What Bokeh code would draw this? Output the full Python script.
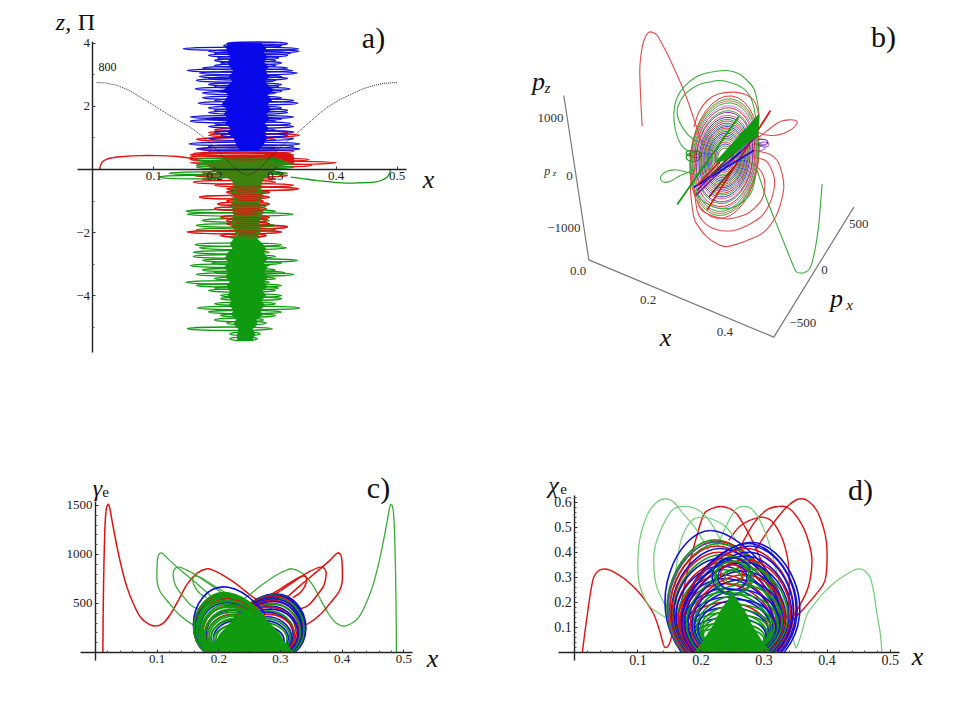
from bokeh.plotting import figure
from bokeh.layouts import column, row
from bokeh.models import Label, Range1d, FixedTicker, ColumnDataSource
from bokeh.embed import file_html
from bokeh.resources import INLINE

RED = "#e01010"
GRN = "#0f9a10"
BLU = "#1010d8"
LGR = "#72cc76"
SGR = "#3aaa3a"
SRD = "#e04848"
DRK = "#3f8210"
PUR = "#8010a0"
BRN = "#704010"

# ---------- panel a: x-z tracks -------------------------------------------
a_blue_z = [3.98,3.92,3.82,3.74,3.68,3.61,3.53,3.45,3.37,3.29,3.21,3.13,3.05,2.94,2.88,2.82,2.69,2.62,2.55,2.48,2.42,2.27,2.18,2.10,1.95,1.87,1.80,1.66,1.60,1.53,1.45,1.36,1.18,1.08,0.97,0.81,0.73,0.65]
a_blue_lo = [.22,.215,.148,.19,.20,.19,.205,.20,.21,.20,.18,.155,.175,.175,.19,.17,.19,.20,.168,.205,.18,.18,.20,.173,.19,.20,.19,.16,.185,.16,.20,.19,.20,.21,.19,.158,.19,.17]
a_blue_hi = [.32,.31,.338,.339,.325,.32,.305,.30,.31,.30,.32,.328,.336,.31,.32,.30,.31,.305,.324,.31,.30,.31,.33,.337,.31,.32,.32,.33,.31,.30,.325,.33,.33,.32,.33,.34,.33,.34]
a_blue_core_z = [4.0,3.85,3.7,3.55,3.4,3.25,3.1,2.95,2.8,2.65,2.5,2.35,2.2,2.05,1.9,1.75,1.6,1.45,1.3,1.15,1.0,0.8,0.62,0.62,0.8,1.0,1.15,1.3,1.45,1.6,1.75,1.9,2.05,2.2,2.35,2.5,2.65,2.8,2.95,3.1,3.25,3.4,3.55,3.7,3.85,4.0]
a_blue_core_x = [.224,.22,.222,.228,.222,.226,.232,.224,.23,.222,.216,.224,.218,.212,.222,.216,.224,.218,.228,.222,.232,.236,.242,.272,.28,.286,.282,.288,.282,.29,.284,.292,.286,.294,.286,.296,.288,.282,.29,.282,.288,.28,.286,.28,.284,.276]

a_red_z = [1.25,1.17,1.08,.95,.65,.58,.50,.46,.39,.31,.21,.13,-.10,-.19,-.30,-.40,-.50,-.61,-.72,-.875,-1.0,-1.09,-1.24,-1.36,-1.51,-1.62,-1.72,-1.82,-1.98,-2.09]
a_red_lo = [.20,.19,.19,.17,.175,.19,.165,.16,.16,.16,.16,.17,.18,.165,.18,.165,.2,.22,.22,.175,.22,.205,.20,.23,.21,.22,.22,.23,.155,.21]
a_red_hi = [.30,.32,.34,.30,.30,.33,.32,.33,.33,.355,.40,.36,.31,.32,.30,.30,.33,.338,.29,.29,.28,.29,.285,.28,.29,.285,.29,.32,.31,.285]
a_red_over_z = [-.55,-.68,-.82,-.95,-1.12,-1.27,-1.40,-1.55,-1.68,-1.80,-1.95,-2.06,.42,.34]
a_red_over_lo = [.23,.235,.225,.235,.222,.23,.232,.225,.235,.228,.235,.24,.20,.22]
a_red_over_hi = [.28,.27,.28,.275,.285,.28,.27,.285,.275,.28,.27,.27,.30,.29]
a_red_blob_x = [.283,.30,.325,.33,.33,.29,.285]
a_red_blob_z = [.52,.50,.50,.38,.20,.22,.35]
a_red_start_x = [.011,.012,.015,.021,.032,.05,.078,.105,.133,.155,.171]
a_red_start_z = [0,.10,.23,.31,.37,.41,.44,.44,.42,.37,.31]

a_grn_z = [.31,.24,.18,.07,-.12,-.24,-.55,-.70,-.90,-1.15,-1.32,-1.42,-1.61,-1.77,-1.91,-2.14,-2.38,-2.48,-2.62,-2.75,-2.88,-2.96,-3.04,-3.18,-3.26,-3.32,-3.45,-3.57,-3.67,-3.75,-3.83,-3.99,-4.09,-4.25,-4.38,-4.51,-4.62,-4.76,-4.86,-5.04,-5.2,-5.36]
a_grn_lo = [.17,.18,.17,.17,.125,.108,.23,.225,.23,.225,.153,.155,.18,.17,.17,.225,.168,.175,.165,.165,.18,.195,.16,.18,.2,.17,.2,.153,.17,.2,.19,.21,.21,.20,.172,.19,.21,.20,.22,.155,.225,.225]
a_grn_hi = [.31,.32,.33,.33,.32,.22,.28,.285,.28,.285,.30,.329,.29,.30,.30,.275,.31,.318,.29,.30,.336,.31,.29,.30,.315,.33,.30,.29,.31,.305,.30,.31,.31,.30,.34,.31,.30,.28,.285,.295,.275,.27]
a_grn_core_z = [.34,.14,.0,-.15,-.3,-.5,-.5,-.3,-.15,.0,.14,.34]
a_grn_core_x = [.215,.19,.195,.21,.225,.235,.275,.28,.29,.30,.31,.285]
a_grn_low_z = [-2.2,-2.35,-2.5,-2.65,-2.8,-2.95,-3.1,-3.25,-3.4,-3.55,-3.7,-3.85,-4.0,-4.15,-4.3,-4.45,-4.6,-4.75,-4.9,-5.05,-5.2,-5.4,-5.4,-5.2,-5.05,-4.9,-4.75,-4.6,-4.45,-4.3,-4.15,-4.0,-3.85,-3.7,-3.55,-3.4,-3.25,-3.1,-2.95,-2.8,-2.65,-2.5,-2.35,-2.2]
a_grn_low_x = [.232,.226,.23,.222,.218,.224,.216,.224,.218,.226,.22,.226,.222,.228,.224,.232,.228,.236,.232,.24,.238,.238,.262,.266,.262,.27,.268,.278,.274,.282,.276,.284,.278,.286,.28,.288,.28,.286,.28,.288,.28,.284,.278,.27]
a_mix_z = [-.5,-.8,-1.1,-1.4,-1.7,-2.0,-2.2,-2.2,-2.0,-1.7,-1.4,-1.1,-.8,-.5]
a_mix_x = [.23,.235,.228,.232,.228,.235,.238,.268,.275,.272,.278,.272,.278,.272]
a_grn_start_x = [.489,.488,.484,.475,.462,.44,.418,.395,.369,.345,.325]
a_grn_start_z = [0,-.10,-.24,-.34,-.40,-.42,-.43,-.40,-.35,-.29,-.24]

a_dot_x = [.006,.02,.04,.06,.078,.10,.122,.14,.16,.18,.199,.215,.232,.244,.254,.264,.276,.292,.308,.328,.347,.366,.385,.407,.429,.445,.462,.48,.5]
a_dot_y = [2.75,2.74,2.66,2.50,2.29,2.03,1.76,1.55,1.34,1.05,.71,.40,.07,-.12,-.19,-.12,.07,.40,.71,1.03,1.34,1.66,1.97,2.22,2.42,2.56,2.66,2.73,2.75]

# ---------- panel c: x-gamma ----------------------------------------------
c_red_x = [.012,.0125,.0135,.015,.017,.02,.023,.027,.035,.043,.051,.062,.073,.085,.097,.11,.122,.135,.149,.165,.181,.192,.203,.22,.235,.25,.268,.285]
c_red_y = [0,400,837,1220,1440,1510,1480,1340,1075,850,667,490,360,295,269,300,395,540,700,810,854,835,803,735,667,590,514,450]
c_grn_x = [.488,.4875,.4865,.485,.483,.48,.477,.473,.465,.457,.449,.438,.427,.415,.403,.39,.378,.365,.351,.335,.319,.308,.297,.28,.265,.25,.232,.215]
c_grn_y = c_red_y
c_rloop_x = [[.24,.27,.30,.32,.335,.341,.342,.338,.33,.32],
             [.27,.30,.33,.35,.365,.372,.374,.37,.36,.345,.33],
             [.31,.335,.36,.38,.392,.398,.40,.40,.395,.38,.365,.345,.335]]
c_rloop_y = [[440,540,650,730,778,770,720,660,600,560],
             [500,630,760,835,871,850,790,680,590,480,440],
             [560,700,830,940,1014,990,900,720,620,500,390,295,280]]
c_gloop_x = [[.26,.23,.20,.18,.165,.159,.158,.162,.17,.18],
             [.23,.20,.17,.15,.135,.128,.126,.13,.14,.155,.17],
             [.19,.165,.14,.12,.108,.102,.10,.10,.105,.12,.135,.155,.165]]
c_gloop_y = c_rloop_y
c_left_x = [.157,.159,.16,.158,.162,.163,.16,.163,.166,.164,.168,.166,.17,.173,.17,.176,.178,.176,.18,.183,.186,.19,.194,.198,.158,.162,.166,.172,.176,.18,.186,.19]
c_left_p = [680,620,610,600,595,585,570,565,555,540,530,515,500,485,470,450,435,415,395,375,350,330,300,270,610,580,530,480,440,390,340,290]
c_left_col = [BLU,GRN,GRN,RED,GRN,GRN,BLU,GRN,RED,GRN,GRN,BLU,GRN,RED,GRN,GRN,BLU,GRN,RED,GRN,GRN,BLU,GRN,GRN,GRN,GRN,GRN,GRN,GRN,GRN,GRN,GRN]
c_right_x = [.343,.341,.34,.342,.338,.336,.34,.337,.334,.336,.332,.334,.33,.327,.33,.324,.322,.324,.319,.317,.314,.312,.307,.304]
c_right_p = [605,600,595,590,585,570,560,555,540,530,510,500,480,470,450,430,415,395,370,350,330,310,280,260]
c_right_col = [BLU,BLU,GRN,BLU,RED,BLU,GRN,BLU,RED,BLU,RED,GRN,BLU,RED,BLU,GRN,BLU,RED,BLU,GRN,BLU,GRN,BLU,GRN]
c_core_x = [.18,.187,.195,.203,.21,.218,.228,.238,.25,.262,.272,.282,.29,.297,.305,.313,.32]
c_core_y = [0,60,110,190,245,295,360,410,445,410,360,300,250,190,110,60,0]

# ---------- panel d: x-chi ------------------------------------------------
d_red_x = [.012,.016,.02,.025,.03,.037,.046,.056,.067,.083,.099,.112,.125,.134,.141,.146,.151,.158,.168,.175,.183,.194,.205,.218,.231,.245,.257,.27,.284,.30]
d_red_y = [0,.08,.153,.24,.30,.325,.333,.328,.313,.285,.247,.205,.153,.09,.027,.02,.04,.11,.19,.28,.367,.47,.553,.575,.583,.575,.553,.50,.433,.34]
d_rloops_x = [[.244,.26,.28,.297,.312,.328,.337,.34,.339,.33,.31],
              [.262,.285,.305,.323,.34,.36,.372,.376,.37,.355,.342],
              [.286,.31,.326,.34,.355,.37,.385,.397,.40,.397,.385,.365,.345]]
d_rloops_y = [[.447,.50,.53,.54,.525,.46,.38,.30,.19,.10,.03],
              [.42,.52,.57,.583,.575,.51,.43,.36,.26,.18,.127],
              [.407,.50,.553,.59,.613,.605,.56,.47,.393,.29,.24,.18,.127]]
d_grn_x = [.487,.484,.479,.474,.468,.46,.452,.442,.432,.415,.398,.382,.368,.36,.352,.349,.343,.335,.322,.31,.295,.282,.268,.255,.241,.225]
d_grn_y = [0,.08,.153,.24,.30,.325,.333,.328,.313,.285,.247,.2,.15,.08,.02,.03,.08,.17,.30,.42,.52,.57,.583,.57,.51,.42]
d_gloops_x = [[.255,.24,.22,.20,.185,.17,.163,.16,.162,.17],
              [.237,.215,.195,.173,.155,.14,.128,.125,.13,.145],
              [.212,.19,.172,.157,.144,.13,.115,.103,.10,.105,.12,.15]]
d_gloops_y = [[.45,.50,.53,.54,.525,.46,.38,.30,.19,.10],
              [.42,.52,.57,.583,.57,.51,.43,.36,.26,.18],
              [.41,.50,.553,.60,.613,.60,.55,.45,.327,.25,.18,.13]]
d_arch_l = [.149,.151,.152,.153,.155,.156,.158,.16,.161,.163,.165,.167,.169,.171,.173,.175,.177,.179,.181,.183,.186,.189,.192,.195,.198]
d_arch_r = [.335,.335,.333,.33,.33,.328,.326,.325,.322,.32,.318,.32,.316,.313,.31,.31,.308,.305,.303,.30,.298,.295,.292,.29,.287]
d_arch_px = [.215,.222,.225,.222,.228,.225,.23,.228,.232,.23,.235,.232,.236,.234,.238,.236,.24,.238,.242,.24,.244,.242,.245,.244,.246]
d_arch_p = [.487,.45,.445,.44,.435,.425,.415,.40,.39,.375,.36,.345,.33,.31,.295,.275,.255,.24,.22,.20,.18,.16,.14,.12,.10]
d_arch_col = [BLU,GRN,RED,"#4060a0",GRN,RED,BLU,RED,GRN,BLU,RED,BLU,GRN,RED,BLU,RED,BLU,GRN,BLU,RED,BLU,GRN,BLU,GRN,GRN]
d_arch2_l = [.168,.168,.166,.166,.168,.17,.172,.175,.178,.182,.186,.19,.193,.196,.2,.204,.208,.212,.215,.218]
d_arch2_r = [.352,.348,.345,.342,.34,.338,.335,.333,.33,.327,.325,.322,.32,.316,.312,.308,.304,.30,.296,.292]
d_arch2_px = [.28,.275,.278,.272,.275,.27,.272,.268,.27,.266,.268,.264,.265,.262,.263,.26,.26,.258,.257,.256]
d_arch2_p = [.44,.435,.425,.415,.40,.385,.37,.36,.34,.325,.31,.29,.27,.25,.23,.21,.19,.17,.15,.13]
d_arch2_col = [BLU,BLU,BLU,RED,BLU,BLU,RED,BLU,GRN,BLU,RED,BLU,GRN,BLU,GRN,BLU,GRN,GRN,GRN,GRN]
d_ring_x = [.25,.249,.251,.25,.25,.249,.251]
d_ring_y = [.305,.305,.30,.305,.30,.31,.30]
d_ring_w = [.066,.062,.058,.052,.046,.036,.026]
d_ring_h = [.155,.145,.13,.115,.10,.08,.055]
d_ring_col = [GRN,BLU,GRN,GRN,BLU,RED,GRN]
d_core_x = [.19,.2,.21,.22,.23,.25,.27,.28,.29,.30,.31]
d_core_y = [0,.03,.07,.11,.16,.235,.16,.11,.07,.03,0]

# ---------- panel b: projected 3-D track ----------------------------------
b_box_x = [130,205,760,1000]
b_box_y = [255,748,980,590]
b_red_x = [365,360,358,365,375,385,398,410,430,450,490,520,545]
b_red_y = [347,250,170,110,78,65,66,75,110,150,240,325,400]
b_grn_x = [905,900,895,885,870,855,845,830,820,780,740,710]
b_grn_y = [520,580,640,710,770,785,788,785,770,670,570,480]
b_gloop1_x = [525,500,480,465,460,468,490,525,570,620,655,680,700,710,715,712]
b_gloop1_y = [430,420,400,360,310,265,230,200,185,180,190,210,235,270,310,345]
b_gloop2_x = [530,500,475,470,480,500,530,565,600,640,670,690,700,710]
b_gloop2_y = [395,370,330,300,270,245,225,215,210,220,235,260,290,350]
b_gteardrop_x = [530,505,480,450,430,420,425,440,460,480,505,530]
b_gteardrop_y = [470,485,495,512,515,505,492,482,478,480,487,495]
b_rteardrop_x = [700,730,760,790,815,830,825,805,780,760,735,715]
b_rteardrop_y = [360,372,375,368,355,338,330,328,333,345,365,380]
b_rlow1_x = [700,745,770,785,790,780,765,730,680,620,590,560,535,520,510,512,520]
b_rlow1_y = [420,430,450,490,530,580,620,665,690,708,700,680,650,620,540,510,480]
b_rlow2_x = [700,735,750,762,760,745,720,680,640,600,570,545,530,520]
b_rlow2_y = [440,450,470,505,540,585,620,645,660,660,650,630,600,530]
b_rlow3_x = [700,720,730,733,725,705,680,650,620,590,560,540,530]
b_rlow3_y = [460,480,500,530,565,590,610,620,625,620,610,595,570]
b_rtop_x = [520,535,560,595,640,675,700,712,715]
b_rtop_y = [350,305,270,250,245,252,270,300,330]
b_glow_x = [525,540,570,610,650,690,705]
b_glow_y = [540,565,585,595,585,550,500]
b_ell_w = [205,201,197,190,186,180,172,168,160,152,146,140,135,128,122,116,110,104,98,92,86,80,72,64,56,48,40]
b_ell_h = [370,352,340,328,310,298,280,270,252,240,228,218,205,195,185,175,165,155,145,135,125,115,105,92,80,68,55]
b_ell_col = [RED,GRN,SRD,GRN,"#a070e0",RED,GRN,PUR,SRD,BLU,GRN,RED,PUR,GRN,BLU,RED,GRN,BRN,BLU,GRN,PUR,BRN,GRN,RED,BLU,GRN,BRN]
b_lob_x = [730,722,712,525,518,512]
b_lob_y = [402,395,410,432,440,428]
b_lob_w = [30,40,45,36,42,30]
b_lob_h = [14,18,22,20,26,16]
b_lob_col = ["#a070e0",PUR,"#a070e0",GRN,GRN,GRN]
b_diag_x0 = [470,560,525,520,590,530,540,565,530,575]
b_diag_y0 = [582,598,555,530,460,525,520,560,540,490]
b_diag_x1 = [655,750,712,700,715,700,660,640,620,670]
b_diag_y1 = [318,300,375,420,315,345,425,470,445,400]
b_diag_col = [GRN,RED,PUR,BLU,GRN,RED,BLU,BRN,PUR,BRN]
b_wedge_x = [585,715,712,610]
b_wedge_y = [455,312,375,450]

# ---------- layout helpers -------------------------------------------------
SERIF = "Liberation Serif"

def panel(w, h, xr, yr):
    p = figure(width=w, height=h, x_range=Range1d(*xr), y_range=Range1d(*yr),
               output_backend="svg", toolbar_location=None, min_border=0)
    p.grid.visible = False
    p.outline_line_color = None
    p.background_fill_color = "white"
    p.border_fill_color = "white"
    return p

def style_axes(p, xt, xm, xb, yt, ym, yb, ylabels=None, fs="13px"):
    p.xaxis.fixed_location = 0
    p.yaxis.fixed_location = 0
    p.xaxis.ticker = FixedTicker(ticks=xt, minor_ticks=xm)
    p.yaxis.ticker = FixedTicker(ticks=yt, minor_ticks=ym)
    p.xaxis.bounds = xb
    p.yaxis.bounds = yb
    if ylabels:
        p.yaxis.major_label_overrides = ylabels
    for ax in (p.xaxis[0], p.yaxis[0]):
        ax.axis_line_color = "#222222"
        ax.axis_line_width = 1.4
        ax.major_tick_line_color = "#333333"
        ax.minor_tick_line_color = "#555555"
        ax.major_tick_in = 3
        ax.major_tick_out = 0
        ax.minor_tick_in = 2
        ax.minor_tick_out = 0
        ax.major_label_text_font = SERIF
        ax.major_label_text_font_size = fs
        ax.major_label_text_color = "#222222"
        ax.major_label_standoff = 3

def put(p, left, top, px, py, text, size, italic=False, align="center", color="#111111"):
    p.add_layout(Label(x=px - left, y=p.height - (py - top), x_units="screen", y_units="screen",
                       text=text, text_font=SERIF, text_font_size=f"{size}px",
                       text_font_style="italic" if italic else "normal",
                       text_align=align, text_baseline="middle", text_color=color))

def rings(p, z, lo, hi, color, height=.11, width=1.3, alpha=1):
    src = ColumnDataSource(dict(x=[(a + b) / 2 for a, b in zip(lo, hi)], y=z,
                                w=[b - a for a, b in zip(lo, hi)]))
    p.ellipse(x="x", y="y", width="w", height=height, source=src, fill_color=None,
              line_color=color, line_width=width, line_alpha=alpha)

def smooth(p, xs, ys, color, width):
    """Draw a curve through the read points with one cubic segment per pair of points."""
    n = len(xs)
    x0, y0, x1, y1, c0x, c0y, c1x, c1y = [], [], [], [], [], [], [], []
    for i in range(n - 1):
        a = max(i - 1, 0); d = min(i + 2, n - 1)
        x0.append(xs[i]); y0.append(ys[i]); x1.append(xs[i + 1]); y1.append(ys[i + 1])
        c0x.append(xs[i] + (xs[i + 1] - xs[a]) / 6); c0y.append(ys[i] + (ys[i + 1] - ys[a]) / 6)
        c1x.append(xs[i + 1] - (xs[d] - xs[i]) / 6); c1y.append(ys[i + 1] - (ys[d] - ys[i]) / 6)
    p.bezier(x0=x0, y0=y0, x1=x1, y1=y1, cx0=c0x, cy0=c0y, cx1=c1x, cy1=c1y,
             line_color=color, line_width=width)

# ---------- panel a ---------------------------------------------------------
LA, TA, WA, HA = 0, 0, 480, 432
a = panel(WA, HA, (-.1521, .6373), (-8.323, 5.348))
style_axes(a, [.1, .2, .3, .4, .5], [], (-.0255, .515), [-4, -2, 2, 4],
           [-5, -3, -1, 1, 3], (-5.8, 4.05), {-4: "−4", -2: "−2"})
rings(a, a_red_z, a_red_lo, a_red_hi, RED)
a.patch(a_red_blob_x, a_red_blob_z, color=RED, line_width=1)
smooth(a, a_red_start_x, a_red_start_z, RED, 1.4)
rings(a, a_grn_z, a_grn_lo, a_grn_hi, GRN)
rings(a, a_red_z[-13:], a_red_lo[-13:], a_red_hi[-13:], RED, alpha=.8)
a.patch(a_mix_x, a_mix_z, color=DRK)
a.patch(a_grn_core_x, a_grn_core_z, color=DRK)
rings(a, a_red_over_z, a_red_over_lo, a_red_over_hi, "#c02810", height=.07, width=1.1)
a.patch(a_grn_low_x, a_grn_low_z, color=GRN)
smooth(a, a_grn_start_x, a_grn_start_z, GRN, 1.3)
rings(a, a_blue_z, a_blue_lo, a_blue_hi, BLU)
a.patch(a_blue_core_x, a_blue_core_z, color="#0808e8")
a.line(a_dot_x, a_dot_y, line_color="#222222", line_width=1, line_dash="1 1")
put(a, LA, TA, 107, 66, "800", 12)
put(a, LA, TA, 63, 21, "z,", 24, italic=True)
put(a, LA, TA, 86, 21, "Π", 24)
put(a, LA, TA, 428, 179, "x", 26, italic=True)
put(a, LA, TA, 373, 37, "a)", 30)

# ---------- panel b ---------------------------------------------------------
LB, TB, WB, HB = 480, 0, 464, 432
b = panel(WB, HB, (-120, 1272), (1266, -30))
b.xaxis.visible = False
b.yaxis.visible = False
b.line(b_box_x, b_box_y, line_color="#777777", line_width=1.2)
b.ellipse(x=b_lob_x, y=b_lob_y, width=b_lob_w, height=b_lob_h, fill_color=None,
          line_color=b_lob_col, line_width=1.1)
b.ellipse(x=612, y=440, width=b_ell_w, height=b_ell_h, angle=-.12, fill_color=None,
          line_color=b_ell_col, line_width=1.0, line_alpha=.85)
for xs, ys, col in [(b_red_x, b_red_y, SRD), (b_grn_x, b_grn_y, SGR),
                    (b_gloop1_x, b_gloop1_y, SGR), (b_gloop2_x, b_gloop2_y, SGR),
                    (b_gteardrop_x, b_gteardrop_y, SGR), (b_rteardrop_x, b_rteardrop_y, SRD),
                    (b_rlow1_x, b_rlow1_y, SRD), (b_rlow2_x, b_rlow2_y, SRD),
                    (b_rlow3_x, b_rlow3_y, SRD), (b_rtop_x, b_rtop_y, SRD),
                    (b_glow_x, b_glow_y, SGR)]:
    smooth(b, xs, ys, col, 1.1)
b.segment(b_diag_x0, b_diag_y0, b_diag_x1, b_diag_y1, line_color=b_diag_col, line_width=1.7)
b.patch(b_wedge_x, b_wedge_y, color=GRN)
for zx, zy, t, s, it in [(90, 322, "1000", 13, False), (147, 497, "0", 13, False), (130, 652, "−1000", 13, False),
                         (80, 482, "p", 12, True), (173, 780, "0.0", 13, False), (383, 868, "0.2", 13, False),
                         (613, 964, "0.4", 13, False), (1015, 640, "500", 13, False), (912, 778, "0", 13, False),
                         (847, 938, "−500", 13, False)]:
    put(b, LB, TB, 520 + zx / 3, 10 + zy / 3, t, s, it, color="#333333")
put(b, LB, TB, 554, 172, "z", 9, italic=True, color="#333333")
put(b, LB, TB, 538, 81, "p", 26, italic=True)
put(b, LB, TB, 547, 87, "z", 15, italic=True)
put(b, LB, TB, 836, 298, "p", 26, italic=True)
put(b, LB, TB, 849, 304, "x", 15, italic=True)
put(b, LB, TB, 665, 337, "x", 26, italic=True)
put(b, LB, TB, 883, 36, "b)", 30)

# ---------- panel c ---------------------------------------------------------
LC, TC, WC, HC = 0, 432, 480, 272
c = panel(WC, HC, (-.154, .6243), (-531, 2245))
style_axes(c, [.1, .2, .3, .4, .5], [.02, .04, .06, .08, .12, .14, .16, .18, .22, .24, .26, .28, .32, .34, .36, .38, .42, .44, .46, .48],
           (-.024, .5135), [500, 1000, 1500],
           [100, 200, 300, 400, 600, 700, 800, 900, 1100, 1200, 1300, 1400], (-80, 1540))
smooth(c, c_red_x, c_red_y, RED, 1.5)
smooth(c, c_grn_x, c_grn_y, SGR, 1.3)
for xs, ys in zip(c_rloop_x, c_rloop_y):
    smooth(c, xs, ys, RED, 1.5)
for xs, ys in zip(c_gloop_x, c_gloop_y):
    smooth(c, xs, ys, SGR, 1.3)
c.bezier(x0=[.225 for _ in c_right_x], y0=[.58 * q for q in c_right_p],
         x1=[q - .02 for q in c_right_x], y1=[0 for _ in c_right_x],
         cx0=[q - .03 for q in c_right_x], cy0=[1.6 * q for q in c_right_p],
         cx1=[q + .03 for q in c_right_x], cy1=[.42 * q for q in c_right_p],
         line_color=c_right_col, line_width=1.7)
c.bezier(x0=[.275 for _ in c_left_x], y0=[.58 * q for q in c_left_p],
         x1=[q + .02 for q in c_left_x], y1=[0 for _ in c_left_x],
         cx0=[q + .03 for q in c_left_x], cy0=[1.6 * q for q in c_left_p],
         cx1=[q - .03 for q in c_left_x], cy1=[.42 * q for q in c_left_p],
         line_color=c_left_col, line_width=1.7)
c.patch(c_core_x, c_core_y, color=GRN)
put(c, LC, TC, 97, 487, "γ", 24, italic=True)
put(c, LC, TC, 105, 491, "e", 15)
put(c, LC, TC, 432, 658, "x", 26, italic=True)
put(c, LC, TC, 378, 487, "c)", 30)

# ---------- panel d ---------------------------------------------------------
LD, TD, WD, HD = 480, 432, 464, 272
d = panel(WD, HD, (-.1495, .5861), (-.2092, .8788))
style_axes(d, [.1, .2, .3, .4, .5], [.02, .04, .06, .08, .12, .14, .16, .18, .22, .24, .26, .28, .32, .34, .36, .38, .42, .44, .46, .48],
           (-.0255, .515), [.1, .2, .3, .4, .5, .6],
           [.02, .04, .06, .08, .12, .14, .16, .18, .22, .24, .26, .28, .32, .34, .36, .38, .42, .44, .46, .48, .52, .54, .56, .58, .62],
           (-.033, .627), fs="14px")
smooth(d, d_red_x, d_red_y, RED, 1.4)
for xs, ys in zip(d_rloops_x, d_rloops_y):
    smooth(d, xs, ys, RED, 1.4)
smooth(d, d_grn_x, d_grn_y, LGR, 1.2)
for xs, ys in zip(d_gloops_x, d_gloops_y):
    smooth(d, xs, ys, LGR, 1.2)

def arches(L, R, PX, P, col):
    zero = [0 for _ in L]
    d.bezier(x0=[l + .02 for l in L], y0=zero, x1=PX, y1=P,
             cx0=[l - .04 for l in L], cy0=[.42 * q for q in P],
             cx1=[q - .05 for q in PX], cy1=P, line_color=col, line_width=1.6)
    d.bezier(x0=PX, y0=P, x1=[r - .02 for r in R], y1=zero,
             cx0=[q + .05 for q in PX], cy0=P,
             cx1=[r + .04 for r in R], cy1=[.42 * q for q in P], line_color=col, line_width=1.6)

arches(d_arch_l, d_arch_r, d_arch_px, d_arch_p, d_arch_col)
arches(d_arch2_l, d_arch2_r, d_arch2_px, d_arch2_p, d_arch2_col)
d.ellipse(x=d_ring_x, y=d_ring_y, width=d_ring_w, height=d_ring_h, fill_color=None,
          line_color=d_ring_col, line_width=1.3)
d.patch(d_core_x, d_core_y, color=GRN)
put(d, LD, TD, 553, 484, "χ", 24, italic=True)
put(d, LD, TD, 563, 488, "e", 15)
put(d, LD, TD, 917, 656, "x", 26, italic=True)
put(d, LD, TD, 860, 489, "d)", 30)

page = column(row(a, b), row(c, d))
open("out.html", "w").write(file_html(page, INLINE))
